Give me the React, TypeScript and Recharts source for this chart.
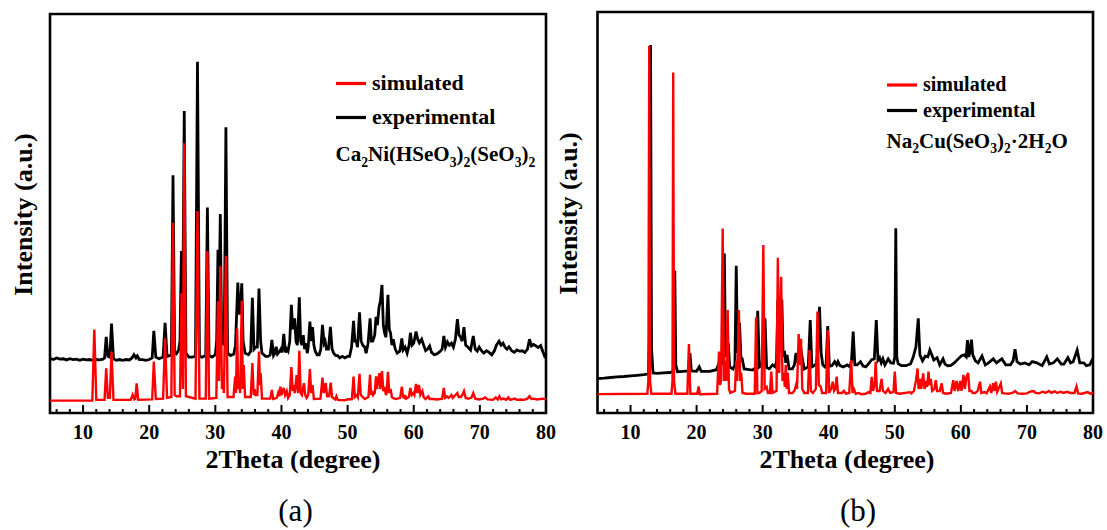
import React from 'react';
import { LineChart, Line, XAxis, YAxis, ReferenceArea } from 'recharts';

// ---------- tick values ----------
const xTicks = [6, 8, 10, 12, 14, 16, 18, 20, 22, 24, 26, 28, 30, 32, 34, 36, 38, 40, 42, 44, 46, 48, 50, 52, 54, 56, 58, 60, 62, 64, 66, 68, 70, 72, 74, 76, 78, 80];
const xDomain: [number, number] = [5, 80];
const yDomain: [number, number] = [0, 100];

// ---------- panel (a): Ca2Ni(HSeO3)2(SeO3)2 ----------
const simA: [number, number][] = [
  [5, 3.1], [11.4, 3.1], [11.7, 20.9], [12.0, 3.3], [13.25, 3.3], [13.5, 11.2], [13.75, 3.8], [14.05, 3.8], [14.3, 15.4], [14.6, 3.3],
  [17.2, 3.3], [17.5, 4.6], [17.75, 3.4], [17.9, 3.5], [18.1, 7.4], [18.35, 3.3], [20.45, 3.4], [20.7, 12.9], [21.0, 3.5], [22.1, 3.6],
  [22.4, 18.7], [22.7, 3.8], [23.35, 4], [23.6, 47.7], [23.85, 4.5], [24.15, 4.2], [24.65, 4.2], [24.9, 30], [25.1, 6], [25.3, 67.6],
  [25.55, 4.2], [27.0, 3.6], [27.3, 50.6], [27.6, 3.6], [28.55, 3.6], [28.8, 40.6], [29.05, 3.6], [30.15, 3.8], [30.4, 28], [30.55, 8],
  [30.75, 36.8], [31.0, 6], [31.1, 9], [31.3, 5], [31.6, 39.4], [31.85, 4], [32.75, 4], [33.0, 9.1], [33.12, 5], [33.3, 21.2],
  [33.45, 6], [33.6, 8], [33.75, 5], [34.0, 28.1], [34.15, 6], [34.3, 12], [34.5, 4], [35.35, 4], [35.6, 12.5], [35.8, 4.5],
  [35.95, 6], [36.05, 4.5], [36.35, 4.5], [36.6, 15.4], [36.75, 7], [36.85, 10], [37.05, 3.6], [38.3, 3.6], [38.55, 5.8], [38.75, 3.5],
  [39.3, 3.8], [39.5, 5], [39.65, 4.2], [39.85, 6.6], [40.0, 4.5], [40.35, 6.3], [40.55, 4.5], [40.8, 5.5], [41.0, 3.8], [41.25, 4.5],
  [41.5, 11.5], [41.7, 5.5], [41.85, 7], [42.0, 5], [42.3, 9.5], [42.5, 5], [42.7, 15.6], [42.9, 5], [43.1, 4.5], [43.4, 7.5],
  [43.6, 4.5], [43.8, 3.8], [44.05, 4.5], [44.3, 11], [44.5, 5], [44.7, 7], [44.9, 3.5], [45.9, 3.6], [46.2, 8.9], [46.4, 5],
  [46.7, 7.5], [46.9, 4.2], [47.2, 4.2], [47.45, 7.6], [47.65, 4], [48.1, 3.4], [48.3, 4.2], [48.5, 3.3], [49.5, 3.2], [50.0, 3.4],
  [50.65, 3.5], [50.9, 9.1], [51.1, 4], [51.4, 4.5], [51.55, 4], [51.8, 9.8], [52.0, 4.5], [52.3, 4], [52.6, 3.5], [53.15, 4],
  [53.4, 9.6], [53.55, 4.5], [53.7, 5.5], [53.85, 4.5], [54.1, 5], [54.3, 9.2], [54.45, 6], [54.6, 8], [54.8, 10], [54.95, 6],
  [55.2, 10.5], [55.4, 5.5], [55.6, 6.5], [55.8, 4.5], [55.9, 5], [56.1, 10.3], [56.3, 5], [56.5, 6], [56.7, 4], [56.9, 3.7],
  [57.3, 3.5], [57.95, 3.8], [58.2, 6.6], [58.4, 4], [58.6, 3.8], [58.7, 4.5], [58.85, 3.6], [59.25, 4], [59.5, 6.3], [59.7, 4.5],
  [59.95, 5], [60.1, 4.5], [60.35, 7.3], [60.55, 5], [60.8, 7], [61.0, 4.5], [61.3, 5.5], [61.5, 4], [61.8, 3.5], [62.2, 4.2],
  [62.4, 3.5], [63.0, 3.5], [63.5, 3.4], [64.3, 3.6], [64.55, 6.3], [64.75, 3.8], [65.0, 4.2], [65.3, 3.8], [65.7, 4.5], [65.9, 3.8],
  [66.3, 4.5], [66.6, 5], [66.8, 4], [67.1, 4], [67.35, 4.5], [67.6, 5.5], [67.85, 3.8], [68.2, 3.6], [68.7, 3.8], [69.0, 5.0],
  [69.3, 3.6], [69.9, 3.4], [70.5, 3.6], [70.8, 3.9], [71.2, 3.4], [72.0, 3.3], [72.4, 3.9], [72.7, 3.4], [72.95, 4.2], [73.2, 3.4],
  [73.6, 3.6], [74.0, 3.3], [74.3, 3.9], [74.6, 3.3], [75.3, 3.6], [75.6, 3.3], [76.2, 3.4], [76.7, 3.3], [77.2, 3.6], [77.5, 4.2],
  [77.8, 3.5], [78.2, 3.6], [78.6, 3.4], [79.1, 3.5], [79.5, 3.6], [80, 3.4],
];

const expA: [number, number][] = [
  [5, 13.7], [5.5, 13.4], [6, 13.8], [6.5, 13.5], [7, 13.6], [7.5, 13.3], [8, 13.6], [8.5, 13.4], [9, 13.5], [9.5, 13.2],
  [10, 13.5], [10.5, 13.3], [11, 13.4], [11.5, 13.2], [12, 13.4], [12.5, 13.3], [13.0, 13.5], [13.25, 13.8], [13.5, 19.1], [13.75, 14.2],
  [14.05, 14], [14.3, 22.4], [14.6, 13.6], [15, 13.2], [15.5, 13.4], [16, 13.2], [16.5, 13.4], [17, 13.3], [17.4, 13.8], [17.7, 14.6],
  [18.0, 13.8], [18.2, 14.3], [18.5, 13.4], [19, 13.4], [19.5, 13.2], [20, 13.4], [20.45, 13.8], [20.7, 20.6], [21.0, 14], [21.5, 13.6],
  [22.1, 14], [22.4, 22.6], [22.7, 14.2], [23.35, 14.5], [23.6, 59.6], [23.85, 15], [24.1, 14.8], [24.45, 15.8], [24.65, 18], [24.87, 40.6],
  [25.05, 20], [25.3, 75.7], [25.55, 15], [26, 14], [26.5, 14], [27.0, 14.2], [27.3, 88], [27.6, 14.2], [28, 14.0], [28.55, 14.4],
  [28.8, 51.5], [29.05, 14.4], [29.5, 14], [30.0, 14.6], [30.2, 18], [30.4, 40.9], [30.55, 25], [30.75, 49.9], [30.95, 20], [31.15, 17],
  [31.35, 18], [31.6, 71.6], [31.85, 15], [32.3, 14.4], [32.8, 14.8], [33.05, 17], [33.4, 32.7], [33.6, 25], [33.75, 25], [34.0, 32.5],
  [34.2, 18], [34.5, 15], [35.0, 14.6], [35.35, 15.5], [35.6, 28.9], [35.85, 16], [36.1, 16.5], [36.35, 16.5], [36.6, 31.2], [36.85, 18],
  [37.05, 15], [37.6, 14.2], [38.0, 14.2], [38.3, 14.6], [38.55, 18.3], [38.8, 14.4], [39.0, 15], [39.2, 16.6], [39.4, 14.8], [39.7, 15.4],
  [39.9, 16], [40.1, 15.2], [40.35, 19.8], [40.6, 15.2], [40.8, 16], [41.0, 15.5], [41.25, 18], [41.5, 27.1], [41.7, 21], [41.85, 22],
  [42.0, 23.7], [42.2, 18], [42.4, 17], [42.7, 29], [42.9, 18], [43.1, 17], [43.3, 19.5], [43.5, 16], [43.7, 17.5], [43.9, 15],
  [44.05, 16.5], [44.3, 22.9], [44.5, 18], [44.7, 21.5], [44.9, 17], [45.1, 15.5], [45.4, 14.6], [45.7, 14.6], [45.95, 16], [46.2, 22.1],
  [46.45, 17.5], [46.6, 18], [46.8, 16], [47.1, 16], [47.4, 21.6], [47.65, 16], [47.9, 15], [48.2, 14.4], [48.5, 14.4], [48.8, 13.8],
  [49.2, 14.2], [49.6, 13.8], [50.0, 14.2], [50.3, 14.2], [50.6, 16.5], [50.9, 23.1], [51.1, 18], [51.3, 18], [51.5, 16.5], [51.8, 25.2],
  [52.05, 18], [52.3, 17], [52.6, 16.5], [52.8, 15], [53.1, 17.5], [53.4, 23.7], [53.6, 18], [53.8, 18], [54.1, 19.5], [54.3, 24.1],
  [54.5, 22], [54.75, 26.5], [54.95, 28], [55.2, 32.1], [55.4, 22], [55.6, 20], [55.8, 19], [56.1, 29.6], [56.3, 21], [56.5, 20],
  [56.7, 17], [56.9, 18.5], [57.2, 16], [57.5, 15], [57.9, 15.5], [58.2, 18.7], [58.4, 15.8], [58.7, 16.5], [59.0, 15], [59.3, 17],
  [59.5, 20.1], [59.75, 17], [60.0, 17.5], [60.35, 20.4], [60.6, 18.5], [60.85, 17.6], [61.2, 18.5], [61.5, 17], [61.8, 15.6], [62.1, 16],
  [62.4, 16.8], [62.7, 15.2], [63.1, 14.6], [63.5, 14.8], [63.9, 15.3], [64.3, 16], [64.55, 19.3], [64.8, 16.5], [65.1, 17.8], [65.4, 17],
  [65.7, 17.5], [66.0, 16.5], [66.3, 18.5], [66.6, 23.5], [66.85, 19.5], [67.1, 19], [67.3, 18], [67.6, 21.5], [67.85, 17], [68.2, 16.5],
  [68.6, 15.8], [69.0, 19.3], [69.3, 16], [69.6, 15.5], [69.9, 16.5], [70.3, 15.5], [70.6, 15], [71.0, 15.6], [71.4, 15.2], [71.8, 14.6],
  [72.2, 15.6], [72.5, 17], [72.9, 18], [73.2, 17], [73.5, 17.5], [73.8, 16.5], [74.1, 16], [74.4, 16.6], [74.8, 15.6], [75.2, 15.2],
  [75.6, 15.8], [76.0, 15.5], [76.4, 15.6], [76.8, 15.2], [77.2, 16], [77.5, 18.5], [77.8, 16.8], [78.1, 17.2], [78.5, 16.8], [78.8, 16.4],
  [79.2, 16.9], [79.5, 15.5], [79.8, 14.2], [80, 14.5],
];

// ---------- panel (b): Na2Cu(SeO3)2·2H2O ----------
const simB: [number, number][] = [
  [5, 4.7], [12.55, 4.8], [12.7, 8], [12.83, 91.5], [12.95, 8], [13.15, 4.8], [16.2, 4.8], [16.35, 8], [16.46, 84.9], [16.58, 8],
  [16.8, 4.8], [18.6, 4.8], [18.84, 17.2], [19.05, 4.8], [20.1, 4.8], [20.3, 6.6], [20.5, 4.7], [23.1, 4.8], [23.4, 15.3], [23.55, 7],
  [23.7, 8], [23.95, 46], [24.15, 8], [24.35, 13], [24.5, 8], [24.7, 25.7], [24.9, 6], [25.1, 5], [25.8, 5.5], [26.0, 13],
  [26.15, 8], [26.4, 25.7], [26.6, 8], [26.75, 10], [26.95, 5], [27.5, 4.8], [28.8, 4.8], [29.0, 23.9], [29.2, 5], [29.5, 5],
  [29.85, 5.5], [30.1, 41.9], [30.3, 6], [30.6, 6.5], [30.8, 5], [31.1, 5], [31.3, 10.3], [31.5, 5], [32.1, 5.5], [32.3, 38.7],
  [32.5, 10], [32.8, 34], [33.0, 8], [33.2, 10], [33.35, 6.5], [33.5, 12], [33.65, 6], [33.8, 10], [34.0, 5], [34.5, 5],
  [34.8, 5.5], [35.05, 7], [35.2, 6], [35.45, 19.7], [35.6, 12], [35.8, 18.5], [36.0, 6], [36.3, 5], [36.85, 5], [37.1, 15.7],
  [37.3, 5.5], [37.6, 5], [38.05, 6], [38.3, 25.3], [38.5, 7], [38.8, 6.5], [39.0, 5], [39.6, 5], [39.85, 20.7], [40.05, 5],
  [40.35, 6], [40.6, 7.8], [40.8, 5.5], [41.0, 6], [41.2, 9.1], [41.4, 5], [42.0, 5], [42.3, 5.5], [42.6, 4.8], [43.1, 5],
  [43.4, 13.2], [43.6, 5], [43.8, 6], [44.1, 4.8], [44.6, 5], [44.9, 4.7], [45.6, 4.8], [46.0, 5.2], [46.3, 5], [46.5, 9],
  [46.7, 5.5], [46.95, 7], [47.1, 12.8], [47.3, 5.5], [47.7, 5.5], [48.0, 8.5], [48.2, 5.5], [48.6, 5], [49.0, 6], [49.3, 5],
  [49.8, 5.2], [50.0, 10.3], [50.2, 5], [50.7, 4.8], [51.5, 5], [52.3, 5.2], [52.5, 4.9], [52.9, 5.5], [53.2, 8], [53.45, 11.1],
  [53.6, 6], [53.85, 8.5], [54.0, 6], [54.3, 9.9], [54.5, 6], [54.75, 8], [54.9, 6.5], [55.1, 10.3], [55.25, 7], [55.45, 8.5],
  [55.65, 5.5], [56.0, 6], [56.2, 8.2], [56.4, 5.5], [56.8, 5.5], [57.1, 7.4], [57.3, 5], [57.8, 4.8], [58.5, 5], [58.85, 8.2],
  [59.05, 5.5], [59.35, 8], [59.6, 5.5], [59.9, 8], [60.1, 5.5], [60.4, 9.5], [60.6, 6], [60.85, 9], [61.1, 10], [61.3, 5.5],
  [61.6, 5.5], [61.8, 5], [62.2, 5], [62.55, 5.5], [62.9, 7.8], [63.1, 5], [63.6, 5.2], [63.9, 4.9], [64.4, 6.6], [64.6, 5],
  [64.9, 7.4], [65.1, 5.5], [65.3, 7.8], [65.5, 5.3], [66.05, 7.4], [66.25, 5], [66.6, 4.9], [67.2, 4.8], [67.8, 5], [68.2, 5.5],
  [68.6, 4.9], [69.3, 4.8], [70.0, 4.9], [70.6, 5.4], [71.0, 5.5], [71.3, 5], [71.8, 4.9], [72.4, 5.3], [72.8, 5], [73.3, 5.5],
  [73.7, 5], [74.2, 5.4], [74.6, 5], [75.1, 5.3], [75.5, 5], [76.1, 5.3], [76.5, 5], [77.2, 5], [77.5, 6.6], [77.75, 4.9],
  [78.3, 4.8], [79.2, 5.2], [79.6, 4.8], [80, 5],
];

const expB: [number, number][] = [
  [5, 8.6], [6, 8.7], [7, 8.85], [8, 9.0], [9, 9.1], [10, 9.25], [11, 9.4], [12, 9.55], [12.7, 9.7], [12.88, 20],
  [13.03, 91.8], [13.18, 16], [13.4, 10], [14, 9.9], [15, 10.0], [16, 10.1], [16.45, 10.4], [16.58, 15], [16.7, 35.5], [16.85, 12],
  [17.1, 10.3], [18, 10.4], [18.75, 10.5], [19.0, 14.9], [19.2, 10.5], [20.0, 10.4], [20.4, 11.5], [20.7, 10.4], [22, 10.4], [23.0, 10.8],
  [23.4, 12.5], [23.6, 12], [23.8, 14], [24.0, 12], [24.2, 39.8], [24.38, 14], [24.5, 18], [24.65, 14], [24.8, 17.4], [25.0, 11.5],
  [25.5, 11], [25.8, 12], [26.0, 36.7], [26.2, 15], [26.5, 22.5], [26.7, 14], [26.9, 13.5], [27.2, 11], [28.0, 10.8], [28.5, 10.7],
  [29.05, 11.5], [29.25, 25.5], [29.5, 11.5], [29.9, 12], [30.35, 23.6], [30.6, 11.3], [31.0, 11], [31.5, 12], [31.9, 11.5], [32.1, 13],
  [32.3, 28.2], [32.45, 22], [32.6, 27], [32.75, 22], [32.9, 28.3], [33.1, 14], [33.3, 15.5], [33.5, 12.5], [33.7, 14.5], [34.0, 11],
  [34.5, 11], [34.8, 12], [35.05, 15], [35.3, 12.5], [35.5, 16], [35.7, 17], [35.95, 14], [36.3, 11], [36.9, 11.5], [37.2, 23.2],
  [37.45, 11.5], [37.8, 11.8], [38.1, 12.3], [38.35, 15], [38.6, 26.5], [38.85, 15], [39.1, 12], [39.4, 11.5], [39.6, 12], [39.85, 21.7],
  [40.1, 11.6], [40.5, 11.8], [40.9, 12.8], [41.2, 12], [41.4, 12.8], [41.7, 11.8], [42.2, 11.5], [42.8, 12], [43.2, 11.5], [43.45, 13],
  [43.7, 20.3], [43.95, 12], [44.3, 12], [44.8, 12.8], [45.2, 11.7], [45.6, 11.5], [46.0, 12.2], [46.5, 13.3], [46.9, 13.5], [47.2, 23.2],
  [47.45, 13.2], [47.7, 13.8], [47.95, 12.5], [48.2, 13.5], [48.5, 12], [49.0, 13.5], [49.4, 12.5], [49.8, 12.4], [50.0, 14], [50.15, 46.1],
  [50.3, 14], [50.5, 12.3], [51.0, 11.8], [51.7, 11.8], [52.4, 12.3], [52.8, 14], [53.2, 16.5], [53.55, 23.6], [53.8, 14.5], [54.2, 13],
  [54.6, 14.2], [55.0, 14], [55.3, 15.7], [55.6, 14.5], [55.9, 13.2], [56.4, 13.8], [56.8, 12], [57.3, 13.5], [57.6, 12.2], [58.0, 11.8],
  [58.5, 11.9], [59.0, 12.5], [59.6, 13.5], [60.1, 14.3], [60.5, 14.5], [60.8, 14], [61.0, 18.2], [61.2, 14], [61.35, 15], [61.6, 18.3],
  [61.8, 14.5], [62.2, 13], [62.6, 12.5], [63.2, 14.2], [63.7, 12], [64.2, 12.5], [64.9, 13.5], [65.4, 12.5], [66.2, 13.5], [66.8, 12],
  [67.5, 12], [67.9, 13], [68.2, 15.9], [68.5, 12.8], [69.0, 12.2], [69.7, 12.5], [70.3, 12], [70.8, 12.8], [71.5, 12.5], [72.3, 11.8],
  [73.0, 14], [73.4, 12.2], [74.0, 12.5], [74.6, 13.5], [75.2, 12.2], [75.6, 12.2], [76.2, 13.8], [76.6, 12.5], [77.0, 12.8], [77.6, 15.7],
  [78.0, 12.5], [78.6, 12.5], [79.0, 11.8], [79.5, 12], [79.8, 13], [80, 12.4],
];

// ---------- labels ----------
const seriesNames = ['simulated', 'experimental'];
const xTitle = '2Theta (degree)';
const yTitle = 'Intensity (a.u.)';
const formulaA: [string, boolean][] = [['Ca', false], ['2', true], ['Ni(HSeO', false], ['3', true], [')', false], ['2', true], ['(SeO', false], ['3', true], [')', false], ['2', true]];
const formulaB: [string, boolean][] = [['Na', false], ['2', true], ['Cu(SeO', false], ['3', true], [')', false], ['2', true], ['·2H', false], ['2', true], ['O', false]];

const toRows = (pts: [number, number][]) => pts.map(([x, y]) => ({ x, y }));

const SERIF = 'Liberation Serif';
const serifStyle: React.CSSProperties = { fontFamily: "'Liberation Serif', 'DejaVu Serif', serif" };

const AxisTick = (props: any) => {
  const { x, y, payload } = props;
  const v = payload.value as number;
  const major = v % 10 === 0;
  return (
    <g>
      <line x1={x} x2={x} y1={y} y2={y - (major ? 8 : 4)} stroke="#000" strokeWidth={2} />
      {major && (
        <text x={x} y={y + 26} textAnchor="middle" style={serifStyle} fontFamily={SERIF} fontWeight="bold" fontSize={20} fill="#000">
          {v}
        </text>
      )}
    </g>
  );
};

type PanelProps = { sim: [number, number][]; exp: [number, number][]; left: number; top: number };

const Panel = ({ sim, exp, left, top }: PanelProps) => (
  <div style={{ position: 'absolute', left: 0, top: 0 }}>
    <LineChart width={560} height={530} margin={{ top, right: 14, bottom: 77, left }}>
      <XAxis
        dataKey="x"
        type="number"
        domain={xDomain}
        ticks={xTicks}
        allowDataOverflow
        height={40}
        axisLine={false}
        tickLine={false}
        tickSize={0}
        tickMargin={0}
        tick={<AxisTick />}
        interval={0}
      />
      <YAxis type="number" domain={yDomain} hide width={0} allowDataOverflow />
      <Line data={toRows(exp)} dataKey="y" stroke="#000000" strokeWidth={2.8} dot={false} isAnimationActive={false} type="linear" name={seriesNames[1]} />
      <Line data={toRows(sim)} dataKey="y" stroke="#FF0000" strokeWidth={2.4} dot={false} isAnimationActive={false} type="linear" name={seriesNames[0]} />
      <ReferenceArea x1={xDomain[0]} x2={xDomain[1]} y1={yDomain[0]} y2={yDomain[1]} fill="none" fillOpacity={0} stroke="#000" strokeWidth={2.6} ifOverflow="visible" />
    </LineChart>
  </div>
);

const Formula = ({ x, y, size, parts }: { x: number; y: number; size: number; parts: [string, boolean][] }) => {
  let prevSub = false;
  return (
    <text x={x} y={y} style={serifStyle} fontFamily={SERIF} fontWeight="bold" fontSize={size} fill="#000">
      {parts.map(([t, sub], i) => {
        let dy = 0;
        if (sub && !prevSub) dy = size * 0.28;
        if (!sub && prevSub) dy = -size * 0.28;
        prevSub = sub;
        return (
          <tspan key={i} dy={dy} fontSize={sub ? size * 0.65 : size}>
            {t}
          </tspan>
        );
      })}
    </text>
  );
};

const Legend = ({ x, y1, y2, size, lineLen }: { x: number; y1: number; y2: number; size: number; lineLen: number }) => (
  <g>
    <line x1={x} x2={x + lineLen} y1={y1} y2={y1} stroke="#FF0000" strokeWidth={3.2} />
    <text x={x + lineLen + 6} y={y1 + 6} style={serifStyle} fontFamily={SERIF} fontWeight="bold" fontSize={size} fill="#000">{seriesNames[0]}</text>
    <line x1={x} x2={x + lineLen} y1={y2} y2={y2} stroke="#000" strokeWidth={3.2} />
    <text x={x + lineLen + 6} y={y2 + 6} style={serifStyle} fontFamily={SERIF} fontWeight="bold" fontSize={size} fill="#000">{seriesNames[1]}</text>
  </g>
);

export default function App() {
  return (
    <div style={{ position: 'absolute', left: 0, top: 0, width: 1107, height: 530, background: '#fff', overflow: 'hidden' }}>
      <Panel sim={simA} exp={expA} left={50} top={14} />
      <div style={{ position: 'absolute', left: 547, top: 0 }}>
        <Panel sim={simB} exp={expB} left={50.5} top={12} />
      </div>
      <svg width={1107} height={530} style={{ position: 'absolute', left: 0, top: 0, pointerEvents: 'none' }}>
        {/* panel a texts */}
        <text transform="translate(31.5,214.5) rotate(-90)" textAnchor="middle" style={serifStyle} fontFamily={SERIF} fontWeight="bold" fontSize={26} fill="#000">{yTitle}</text>
        <text x={293} y={467.5} textAnchor="middle" style={serifStyle} fontFamily={SERIF} fontWeight="bold" fontSize={26} fill="#000">{xTitle}</text>
        <text x={295.5} y={521} textAnchor="middle" style={serifStyle} fontFamily={SERIF} fontSize={31} fill="#000">(a)</text>
        <Legend x={336} y1={83.5} y2={117.5} size={22} lineLen={30} />
        <Formula x={335.5} y={161} size={21} parts={formulaA} />
        {/* panel b texts */}
        <text transform="translate(577,213.5) rotate(-90)" textAnchor="middle" style={serifStyle} fontFamily={SERIF} fontWeight="bold" fontSize={26} fill="#000">{yTitle}</text>
        <text x={847} y={467.5} textAnchor="middle" style={serifStyle} fontFamily={SERIF} fontWeight="bold" fontSize={26} fill="#000">{xTitle}</text>
        <text x={858} y={521} textAnchor="middle" style={serifStyle} fontFamily={SERIF} fontSize={31} fill="#000">(b)</text>
        <Legend x={887} y1={85} y2={110.5} size={20} lineLen={30} />
        <Formula x={886.5} y={147.5} size={21} parts={formulaB} />
      </svg>
    </div>
  );
}
